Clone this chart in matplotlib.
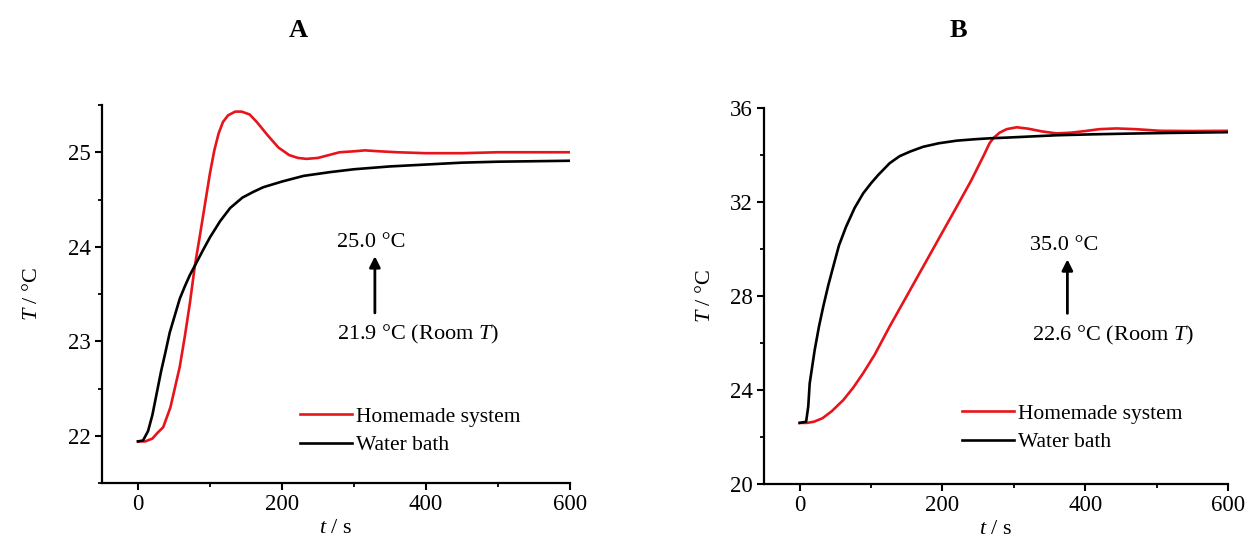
import numpy as np
import matplotlib
matplotlib.use("Agg")
import matplotlib.pyplot as plt
from matplotlib.ticker import MultipleLocator

plt.rcParams['font.family'] = 'Liberation Serif'
plt.rcParams['mathtext.fontset'] = 'custom'
plt.rcParams['mathtext.rm'] = 'Liberation Serif'
plt.rcParams['mathtext.it'] = 'Liberation Serif:italic'

# panel A (readings from the figure), t in s, T in degC
tA_red = [0, 10, 20, 27, 35, 45, 58, 65, 72, 79, 86, 93, 100, 106, 112, 118, 125, 135,
          144, 155, 165, 180, 195, 210, 222, 234, 250, 265, 280, 300, 315, 335, 360, 400,
          450, 500, 600]
TA_red = [21.94, 21.94, 21.97, 22.03, 22.09, 22.3, 22.73, 23.05, 23.4, 23.8, 24.12, 24.45,
          24.78, 25.02, 25.2, 25.32, 25.39, 25.43, 25.43, 25.4, 25.32, 25.18, 25.05, 24.97,
          24.94, 24.93, 24.94, 24.97, 25.0, 25.01, 25.02, 25.01, 25.0, 24.99, 24.99, 25.0,
          25.0]
tA_blk = [0, 7, 14, 20, 26, 32, 38, 44, 51, 58, 65, 72, 79, 90, 100, 114, 128, 145, 160,
          174, 200, 230, 267, 300, 350, 400, 450, 500, 600]
TA_blk = [21.94, 21.95, 22.05, 22.22, 22.45, 22.68, 22.88, 23.09, 23.27, 23.45, 23.58,
          23.7, 23.8, 23.96, 24.1, 24.27, 24.41, 24.52, 24.58, 24.63, 24.69, 24.75, 24.79,
          24.82, 24.85, 24.87, 24.89, 24.9, 24.91]

# panel B
tB_red = [0, 10, 20, 32, 45, 61, 75, 89, 105, 126, 150, 173, 196, 220, 240, 257, 266,
          271, 280, 290, 304, 320, 340, 360, 380, 400, 420, 444, 470, 505, 550, 600]
TB_red = [22.6, 22.6, 22.65, 22.8, 23.1, 23.57, 24.1, 24.72, 25.5, 26.7, 28.0, 29.25,
          30.5, 31.8, 32.9, 33.93, 34.5, 34.71, 34.95, 35.1, 35.18, 35.12, 35.0, 34.92,
          34.95, 35.02, 35.1, 35.13, 35.1, 35.03, 35.02, 35.03]
tB_blk = [0, 9, 12, 14, 21, 27, 33, 40, 47, 55, 65, 77, 89, 100, 110, 126, 140, 155, 173,
          195, 220, 245, 266, 290, 318, 360, 411, 460, 520, 600]
TB_blk = [22.6, 22.65, 23.3, 24.28, 25.7, 26.7, 27.55, 28.45, 29.25, 30.15, 30.95, 31.75,
          32.37, 32.8, 33.15, 33.65, 33.95, 34.15, 34.35, 34.5, 34.61, 34.67, 34.71, 34.74,
          34.78, 34.84, 34.88, 34.91, 34.94, 34.97]

W, H = 1249, 540
fig = plt.figure(figsize=(W / 100, H / 100), dpi=100)
axA = fig.add_axes([102 / W, 1 - 483 / H, 468 / W, 378 / H])
axB = fig.add_axes([764 / W, 1 - 484 / H, 464 / W, 376 / H])

red = '#e8141b'
fs_tick = 16.5
fs_txt = 16

def style(ax, ylab_x):
    for s in ['top', 'right']:
        ax.spines[s].set_visible(False)
    for s in ['left', 'bottom']:
        ax.spines[s].set_linewidth(1.6)
    ax.tick_params(which='major', direction='out', length=5, width=1.5,
                   labelsize=fs_tick, pad=3)
    ax.tick_params(which='minor', direction='out', length=3, width=1.3)
    ax.xaxis.set_major_locator(MultipleLocator(200))
    ax.xaxis.set_minor_locator(MultipleLocator(100))
    ax.set_xlim(-50, 600)
    ax.set_xlabel('$t$ / s', fontsize=fs_txt, labelpad=3)
    ax.set_ylabel('$T$ / °C', fontsize=fs_txt)
    ax.yaxis.set_label_coords(ylab_x, 0.5)

# A
axA.plot(tA_red, TA_red, color=red, lw=1.9, label='Homemade system')
axA.plot(tA_blk, TA_blk, color='black', lw=1.9, label='Water bath')
style(axA, -0.128)
axA.set_ylim(21.5, 25.5)
axA.yaxis.set_major_locator(MultipleLocator(1))
axA.yaxis.set_minor_locator(MultipleLocator(0.5))
axA.annotate('', xy=(329, 23.9), xytext=(329, 23.3),
             arrowprops=dict(arrowstyle='-|>', color='black', lw=2, mutation_scale=16,
                             shrinkA=0, shrinkB=0))
axA.text(324, 24.05, '25.0 °C', fontsize=fs_txt, ha='center', va='center')
axA.text(276, 23.07, '21.9 °C (Room $T$)', fontsize=fs_txt, ha='left', va='center')
axA.legend(loc='center left', bbox_to_anchor=(0.423, 0.138), frameon=False, fontsize=15.5,
           handlelength=2.4, handletextpad=0.2, labelspacing=0.4, borderaxespad=0,
           borderpad=0)

# B
axB.plot(tB_red, TB_red, color=red, lw=1.9, label='Homemade system')
axB.plot(tB_blk, TB_blk, color='black', lw=1.9, label='Water bath')
style(axB, -0.105)
axB.set_ylim(20, 36)
axB.yaxis.set_major_locator(MultipleLocator(4))
axB.yaxis.set_minor_locator(MultipleLocator(2))
axB.annotate('', xy=(375, 29.56), xytext=(375, 27.26),
             arrowprops=dict(arrowstyle='-|>', color='black', lw=2, mutation_scale=16,
                             shrinkA=0, shrinkB=0))
axB.text(370, 30.17, '35.0 °C', fontsize=fs_txt, ha='center', va='center')
axB.text(325, 26.34, '22.6 °C (Room $T$)', fontsize=fs_txt, ha='left', va='center')
axB.legend(loc='center left', bbox_to_anchor=(0.427, 0.149), frameon=False, fontsize=15.5,
           handlelength=2.4, handletextpad=0.2, labelspacing=0.4, borderaxespad=0,
           borderpad=0)

fig.text(298 / W, 1 - 31 / H, 'A', fontsize=19, fontweight='bold', ha='center', va='center')
fig.text(958 / W, 1 - 31 / H, 'B', fontsize=19, fontweight='bold', ha='center', va='center')

fig.savefig('out.png', dpi=100)
